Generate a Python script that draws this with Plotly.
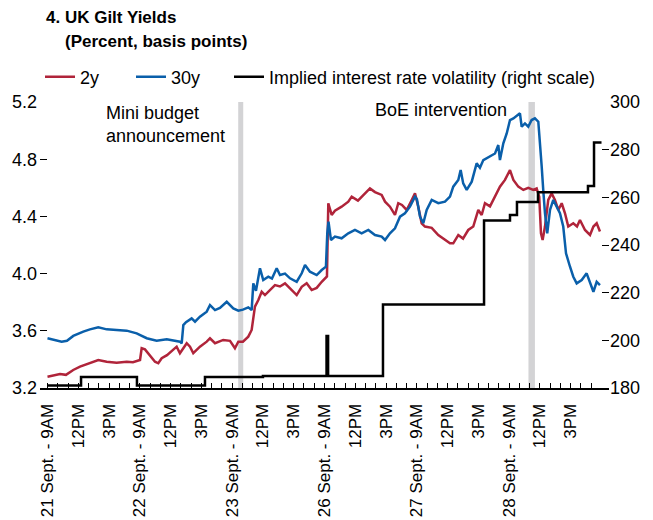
import plotly.graph_objects as go

# ---------------- data ----------------
# x = trading-hour index (9 trading hours per day, 0 = 21 Sept 9AM)
t_2y = [0.0, 0.63, 1.22, 1.80, 2.51, 3.17, 4.14, 4.95, 5.77, 6.74, 7.72, 8.33, 9.02, 9.18, 9.50, 9.82,
        10.19, 10.48, 10.80, 11.13, 11.65, 12.26, 12.59, 12.91, 13.57, 13.89, 14.21, 14.86, 15.52, 15.84,
        16.33, 17.13, 17.79, 18.27, 18.60, 19.05, 19.57, 19.90, 20.22, 20.55, 20.88, 21.20, 21.69, 22.17,
        22.66, 23.15, 23.64, 24.29, 24.78, 25.26, 25.75, 26.24, 26.73, 27.05, 27.24, 27.37, 27.70, 28.02,
        28.67, 29.32, 29.65, 30.26, 30.95, 31.43, 31.92, 32.57, 32.90, 33.38, 33.87, 34.19, 34.55, 35.01,
        35.50, 35.82, 36.14, 36.47, 36.79, 37.45, 38.09, 38.74, 39.23, 39.55, 40.04, 40.50, 41.01, 41.50,
        41.99, 42.32, 42.64, 43.13, 43.62, 44.10, 44.59, 45.08, 45.41, 45.89, 46.38, 46.86, 47.35, 47.68,
        47.93, 48.10, 48.26, 48.49, 48.81, 49.14, 49.46, 49.79, 50.12, 50.44, 50.76, 51.25, 51.61, 51.90,
        52.39, 52.88, 53.21, 53.53, 53.85]
y_2y = [3.279, 3.290, 3.298, 3.292, 3.326, 3.349, 3.373, 3.396, 3.384, 3.377, 3.384, 3.380, 3.396, 3.478,
        3.470, 3.443, 3.410, 3.384, 3.373, 3.408, 3.430, 3.466, 3.489, 3.443, 3.513, 3.489, 3.443, 3.489,
        3.524, 3.548, 3.513, 3.536, 3.530, 3.478, 3.524, 3.524, 3.559, 3.606, 3.769, 3.815, 3.873, 3.850,
        3.885, 3.920, 3.910, 3.932, 3.897, 3.850, 3.908, 3.932, 3.885, 3.900, 3.943, 3.967, 3.980, 4.492,
        4.410, 4.440, 4.468, 4.503, 4.538, 4.510, 4.561, 4.596, 4.570, 4.550, 4.503, 4.468, 4.410, 4.492,
        4.480, 4.445, 4.515, 4.561, 4.468, 4.352, 4.329, 4.320, 4.270, 4.235, 4.212, 4.212, 4.270, 4.245,
        4.305, 4.329, 4.445, 4.410, 4.492, 4.470, 4.538, 4.608, 4.655, 4.724, 4.655, 4.608, 4.585, 4.600,
        4.585, 4.596, 4.538, 4.282, 4.235, 4.329, 4.515, 4.561, 4.515, 4.445, 4.492, 4.422, 4.329, 4.352,
        4.330, 4.375, 4.305, 4.270, 4.329, 4.352, 4.294]

t_30y = [0.0, 0.63, 1.38, 1.90, 2.51, 3.49, 4.14, 4.95, 5.77, 6.74, 7.72, 8.69, 9.67, 10.64, 11.62, 12.91,
         13.08, 13.24, 13.50, 14.05, 14.38, 14.86, 15.52, 15.84, 16.33, 16.81, 17.47, 18.11, 18.60, 19.05,
         19.57, 19.90, 20.06, 20.32, 20.71, 21.03, 21.52, 21.88, 22.34, 22.66, 23.15, 23.64, 24.29, 24.78,
         25.10, 25.58, 26.24, 26.73, 27.14, 27.27, 27.39, 27.63, 28.02, 28.67, 29.32, 29.97, 30.62, 31.27,
         31.92, 32.57, 32.90, 33.38, 33.87, 34.36, 34.84, 35.33, 35.82, 36.01, 36.31, 36.63, 36.96, 37.45,
         38.09, 38.74, 39.23, 39.55, 40.04, 40.27, 40.52, 40.86, 41.35, 41.83, 42.15, 42.48, 43.13, 43.62,
         43.94, 44.10, 44.43, 44.76, 45.08, 45.41, 46.05, 46.22, 46.54, 46.86, 47.19, 47.51, 47.84, 48.00,
         48.17, 48.32, 48.49, 48.71, 48.98, 49.30, 49.63, 49.95, 50.27, 50.54, 50.93, 51.25, 51.58, 52.07,
         52.55, 52.88, 53.21, 53.53, 53.85]
y_30y = [3.548, 3.535, 3.524, 3.530, 3.564, 3.594, 3.610, 3.624, 3.610, 3.606, 3.601, 3.582, 3.548, 3.531,
         3.540, 3.524, 3.512, 3.640, 3.660, 3.687, 3.664, 3.699, 3.734, 3.780, 3.745, 3.760, 3.803, 3.757,
         3.741, 3.748, 3.764, 3.745, 3.932, 3.880, 4.037, 3.955, 3.978, 3.965, 4.037, 3.990, 4.000, 3.967,
         3.943, 4.002, 4.060, 4.013, 3.990, 4.025, 4.048, 4.282, 4.363, 4.235, 4.259, 4.247, 4.282, 4.305,
         4.282, 4.305, 4.270, 4.259, 4.235, 4.282, 4.317, 4.398, 4.422, 4.468, 4.538, 4.520, 4.398, 4.352,
         4.445, 4.515, 4.492, 4.503, 4.538, 4.608, 4.655, 4.724, 4.631, 4.585, 4.643, 4.771, 4.740, 4.794,
         4.818, 4.840, 4.899, 4.794, 4.911, 4.980, 5.074, 5.085, 5.121, 5.027, 5.050, 5.027, 5.074, 5.086,
         5.062, 4.934, 4.748, 4.585, 4.422, 4.282, 4.445, 4.515, 4.470, 4.422, 4.329, 4.142, 4.048, 3.978,
         3.932, 3.955, 4.002, 3.932, 3.873, 3.943, 3.920]

# implied interest rate volatility (basis points, right scale), step series
t_vol = [0.0, 3.27, 8.72, 15.35, 21.0, 27.15, 27.2, 27.35, 32.7, 42.55, 45.08, 45.76, 47.81, 52.68, 53.27, 54.0]
y_vol = [181.0, 184.6, 181.0, 184.6, 185.0, 185.0, 201.8, 185.0, 215.0, 250.3, 252.6, 258.0, 262.1, 264.8, 283.0, 283.0]

# event shading (start, end in trading-hour index)
event_start = [18.59, 46.88]
event_end = [19.08, 47.51]

# tick labels
day_labels = ["21 Sept.", "22 Sept.", "23 Sept.", "26 Sept.", "27 Sept.", "28 Sept."]
hour_labels = {0: "9AM", 3: "12PM", 6: "3PM"}
hours_per_day = 9

tickvals = list(range(0, len(day_labels) * hours_per_day))
ticktext = []
for v in tickvals:
    d, h = divmod(v, hours_per_day)
    if h == 0:
        ticktext.append(f"{day_labels[d]} - {hour_labels[0]}")
    elif h in hour_labels:
        ticktext.append(hour_labels[h])
    else:
        ticktext.append("")

RED = "#B0243A"
BLUE = "#0A5FAA"
FONT = "Liberation Sans, Arial, sans-serif"

fig = go.Figure()
fig.add_trace(go.Scatter(x=t_2y, y=y_2y, mode="lines", name="2y",
                         line=dict(color=RED, width=2.5), legendwidth=46))
fig.add_trace(go.Scatter(x=t_30y, y=y_30y, mode="lines", name="30y",
                         line=dict(color=BLUE, width=2.5), legendwidth=53))
fig.add_trace(go.Scatter(x=t_vol, y=y_vol, mode="lines", name="Implied interest rate volatility (right scale)",
                         line=dict(color="black", width=2.5, shape="hv"), yaxis="y2"))

for s, e in zip(event_start, event_end):
    fig.add_shape(type="rect", xref="x", yref="paper", x0=s, x1=e, y0=0, y1=1,
                  fillcolor="#D3D3D5", line=dict(width=0), layer="below")

fig.update_layout(
    width=653, height=520,
    margin=dict(l=40, r=44, t=102, b=132),
    paper_bgcolor="white", plot_bgcolor="white",
    font=dict(family=FONT, size=17, color="black"),
    showlegend=True,
    legend=dict(orientation="h", x=0.0, xanchor="left", y=1.087, yanchor="middle",
                font=dict(size=18), bgcolor="rgba(0,0,0,0)", itemwidth=30),
    xaxis=dict(range=[-0.73, 54.73], tickmode="array", tickvals=tickvals, ticktext=ticktext,
               tickangle=-90, ticks="inside", ticklen=5, tickwidth=1, tickcolor="black",
               showline=True, linecolor="black", linewidth=2, showgrid=False, zeroline=False,
               tickfont=dict(size=17), ticklabelstandoff=7, automargin=False),
    yaxis=dict(range=[3.2, 5.2], dtick=0.4, tick0=3.2, tickformat=".1f", ticks="inside", ticklen=7,
               tickcolor="black", showgrid=False, zeroline=False, showline=False,
               tickfont=dict(size=18), ticklabelstandoff=2, automargin=False),
    yaxis2=dict(range=[180, 300], dtick=20, tick0=180, overlaying="y", side="right", ticks="inside",
                ticklen=7, tickcolor="black", showgrid=False, zeroline=False, showline=False,
                tickfont=dict(size=18), automargin=False),
    annotations=[
        dict(text="<b>4. UK Gilt Yields</b>", xref="paper", yref="paper", x=0.007, y=1.294,
             xanchor="left", yanchor="middle", showarrow=False, font=dict(size=17)),
        dict(text="<b>(Percent, basis points)</b>", xref="paper", yref="paper", x=0.0404, y=1.213,
             xanchor="left", yanchor="middle", showarrow=False, font=dict(size=17)),
        dict(text="Mini budget<br>announcement", xref="paper", yref="paper", x=0.113, y=0.921,
             xanchor="left", yanchor="middle", align="left", showarrow=False, font=dict(size=18)),
        dict(text="BoE intervention", xref="paper", yref="paper", x=0.5855, y=0.972,
             xanchor="left", yanchor="middle", showarrow=False, font=dict(size=18)),
    ],
)

fig.write_html("out.html", config={"displayModeBar": False},
               post_script="document.body.style.margin='0';")
